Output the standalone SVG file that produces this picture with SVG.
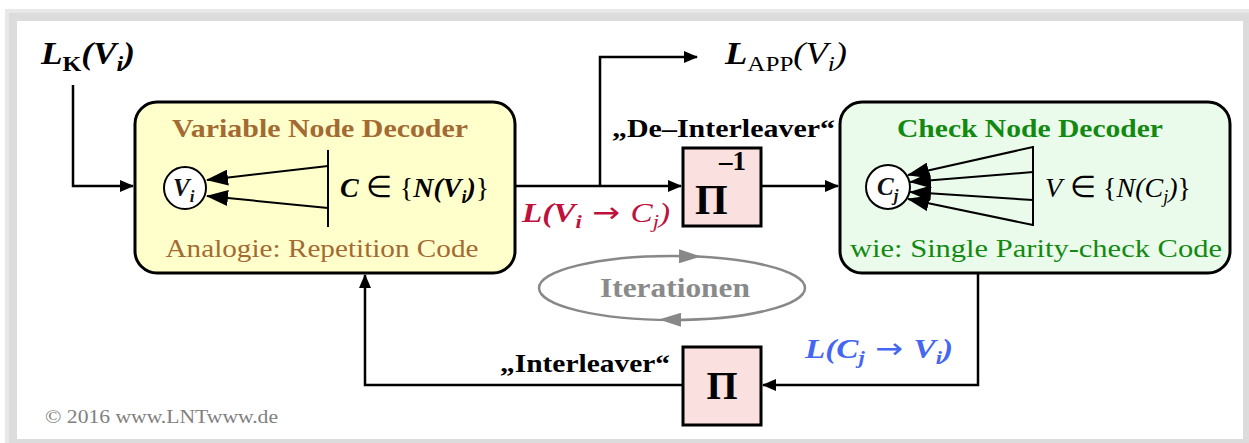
<svg xmlns="http://www.w3.org/2000/svg" width="1249" height="443" viewBox="0 0 1249 443">
  <style>
    .ser { font-family: "Liberation Serif", "Times New Roman", serif; }
    .math { font-family: "Liberation Serif", "Times New Roman", serif; font-style: italic; }
    .b { font-weight: bold; }
    .n { font-weight: normal; }
    .up { font-style: normal; }
    .box { stroke: #000; stroke-width: 3; }
    .wire { fill: none; stroke: #000; stroke-width: 2.5; }
    .fan { fill: none; stroke: #000; stroke-width: 2; }
    .lbl { font-family: "Liberation Serif", "Times New Roman", serif; font-weight: bold; font-size: 26px; fill: #000; }
    .arw { font-family: "DejaVu Sans", sans-serif; font-style: normal; font-weight: normal; font-size: 28px; }
  </style>
  <defs>
    <marker id="arr" markerWidth="14" markerHeight="12" refX="13" refY="6" orient="auto" markerUnits="userSpaceOnUse">
      <path d="M0,0 L14,6 L0,12 Z" fill="#000"/>
    </marker>
    <marker id="farr" markerWidth="22" markerHeight="16" refX="21" refY="8" orient="auto" markerUnits="userSpaceOnUse">
      <path d="M0,0 L22,8 L0,16 Z" fill="#000"/>
    </marker>
    <marker id="garr" markerWidth="22" markerHeight="14" refX="11" refY="7" orient="auto" markerUnits="userSpaceOnUse">
      <path d="M0,0 L22,7 L0,14 Z" fill="#888"/>
    </marker>
  </defs>

  <!-- page frame -->
  <rect x="0" y="0" width="1249" height="443" fill="#fff"/>
  <rect x="5" y="9" width="1244" height="434" fill="#e8e8e8"/>
  <rect x="9" y="13" width="1240" height="430" fill="#dcdcdc"/>
  <rect x="17" y="21" width="1226" height="418" fill="#fff"/>

  <!-- connectors -->
  <g id="connectors">
    <polyline class="wire" points="73,85 73,186 133,186" marker-end="url(#arr)"/>
    <line class="wire" x1="515" y1="186" x2="681" y2="186" marker-end="url(#arr)"/>
    <polyline class="wire" points="600,186 600,57 697,57" marker-end="url(#arr)"/>
    <line class="wire" x1="761" y1="186" x2="838" y2="186" marker-end="url(#arr)"/>
    <polyline class="wire" points="978,273 978,385 763,385" marker-end="url(#arr)"/>
    <polyline class="wire" points="683,385 365,385 365,275" marker-end="url(#arr)"/>
  </g>

  <!-- input / output labels -->
  <g id="input-label">
    <text class="math b" x="41" y="64" font-size="32" textLength="94" lengthAdjust="spacingAndGlyphs">L<tspan class="up" font-size="22" dy="7">K</tspan><tspan dy="-7">(</tspan>V<tspan font-size="22" dy="7">i</tspan><tspan dy="-7">)</tspan></text>
  </g>
  <g id="output-label">
    <text class="math" x="725" y="64" font-size="32" textLength="122" lengthAdjust="spacingAndGlyphs"><tspan class="b">L</tspan><tspan class="up" font-size="22" dy="7">APP</tspan><tspan dy="-7">(</tspan>V<tspan font-size="22" dy="7">i</tspan><tspan dy="-7">)</tspan></text>
  </g>

  <!-- variable node decoder -->
  <g id="variable-node-decoder">
    <rect class="box" x="135" y="102" width="380" height="171" rx="22" fill="#ffffcc"/>
    <text class="ser b" x="320" y="137" font-size="26" fill="#a36a33" text-anchor="middle" textLength="296" lengthAdjust="spacingAndGlyphs">Variable Node Decoder</text>
    <circle cx="185" cy="188" r="21" fill="#fff" stroke="#000" stroke-width="2"/>
    <text class="math b" x="173" y="196" font-size="25" fill="#111">V<tspan font-size="17" dy="6">i</tspan></text>
    <line x1="328" y1="150" x2="328" y2="227" stroke="#000" stroke-width="2"/>
    <line class="fan" x1="328" y1="166" x2="207" y2="180" marker-end="url(#farr)"/>
    <line class="fan" x1="328" y1="208" x2="207" y2="196" marker-end="url(#farr)"/>
    <text class="math b" x="340" y="197" font-size="28">C<tspan class="up n" font-size="30"> ∈ </tspan><tspan class="up n">{</tspan>N<tspan>(</tspan>V<tspan font-size="18" dy="6">i</tspan><tspan dy="-6">)</tspan><tspan class="up n">}</tspan></text>
    <text class="ser" x="322" y="257" font-size="26" fill="#a36a33" text-anchor="middle" textLength="313" lengthAdjust="spacingAndGlyphs">Analogie: Repetition Code</text>
  </g>

  <!-- de-interleaver -->
  <g id="de-interleaver">
    <text class="lbl" x="612" y="137" textLength="223" lengthAdjust="spacingAndGlyphs">„De–Interleaver“</text>
    <rect x="683" y="148" width="78" height="78" fill="#fbe0e0" stroke="#000" stroke-width="3"/>
    <text class="ser b" x="695" y="214" font-size="42">Π</text>
    <text class="ser b" x="719" y="170" font-size="27">–1</text>
  </g>

  <text class="math b" x="522" y="222" font-size="28" fill="#c0103c" textLength="148" lengthAdjust="spacingAndGlyphs">L(V<tspan font-size="19" dy="6">i</tspan><tspan class="arw" dy="-6"> → </tspan><tspan class="n">C</tspan><tspan class="n" font-size="19" dy="6">j</tspan><tspan class="n" dy="-6">)</tspan></text>

  <!-- check node decoder -->
  <g id="check-node-decoder">
    <rect class="box" x="840" y="102" width="390" height="171" rx="22" fill="#ebfbeb"/>
    <text class="ser b" x="1030" y="137" font-size="26" fill="#128a12" text-anchor="middle" textLength="266" lengthAdjust="spacingAndGlyphs">Check Node Decoder</text>
    <circle cx="888" cy="187" r="22" fill="#fff" stroke="#000" stroke-width="2"/>
    <text class="math b" x="877" y="195" font-size="25" fill="#111">C<tspan font-size="17" dy="6">j</tspan></text>
    <line x1="1033" y1="146" x2="1033" y2="226" stroke="#000" stroke-width="2"/>
    <line class="fan" x1="1033" y1="147" x2="908" y2="175" marker-end="url(#farr)"/>
    <line class="fan" x1="1033" y1="172" x2="910" y2="182" marker-end="url(#farr)"/>
    <line class="fan" x1="1033" y1="200" x2="910" y2="192" marker-end="url(#farr)"/>
    <line class="fan" x1="1033" y1="225" x2="908" y2="199" marker-end="url(#farr)"/>
    <text class="math n" x="1045" y="197" font-size="28">V<tspan class="up" font-size="30"> ∈ </tspan><tspan class="up">{</tspan>N<tspan>(</tspan>C<tspan font-size="18" dy="6">j</tspan><tspan dy="-6">)</tspan><tspan class="up">}</tspan></text>
    <text class="ser" x="1036" y="257" font-size="26" fill="#128a12" text-anchor="middle" textLength="372" lengthAdjust="spacingAndGlyphs">wie: Single Parity-check Code</text>
  </g>

  <!-- iteration loop -->
  <g id="iterations">
    <ellipse cx="672" cy="288" rx="133" ry="32" fill="none" stroke="#888" stroke-width="2.5"/>
    <line x1="670" y1="256.2" x2="690" y2="256.4" stroke="none" marker-end="url(#garr)"/>
    <line x1="690" y1="319.8" x2="670" y2="319.6" stroke="none" marker-end="url(#garr)"/>
    <text class="ser b" x="675" y="297" font-size="28" fill="#8a8a8a" text-anchor="middle" textLength="150" lengthAdjust="spacingAndGlyphs">Iterationen</text>
  </g>

  <!-- interleaver -->
  <g id="interleaver">
    <text class="lbl" x="500" y="372" textLength="170" lengthAdjust="spacingAndGlyphs">„Interleaver“</text>
    <rect x="683" y="347" width="78" height="78" fill="#fbe0e0" stroke="#000" stroke-width="3"/>
    <text class="ser b" x="722" y="399" font-size="40" text-anchor="middle">Π</text>
  </g>

  <text class="math b" x="805" y="358" font-size="28" fill="#4466f0" textLength="148" lengthAdjust="spacingAndGlyphs">L(C<tspan font-size="19" dy="6">j</tspan><tspan class="arw" dy="-6"> → </tspan>V<tspan font-size="19" dy="6">i</tspan><tspan dy="-6">)</tspan></text>

  <text class="ser" x="45" y="423" font-size="18" fill="#808080" textLength="233" lengthAdjust="spacingAndGlyphs">© 2016 www.LNTwww.de</text>
</svg>
